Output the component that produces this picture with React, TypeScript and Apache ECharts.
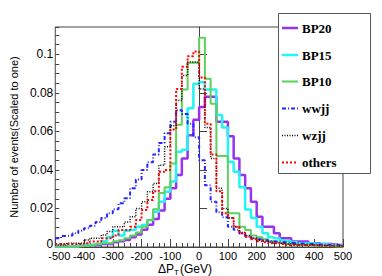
import React, { useEffect, useRef } from "react";
import * as echarts from "echarts";

// Histogram binning: 50 bins of 20 GeV from -500 to 500
const binStart = -500;
const binWidth = 20;
const nBins = 50;

const seriesNames = ["BP20", "BP15", "BP10", "wwjj", "wzjj", "others"];

const bp20 = [
  0.0003, 0.0003, 0.0003, 0.0005, 0.0005, 0.001, 0.001, 0.001, 0.0015, 0.0015,
  0.0025, 0.003, 0.0036, 0.005, 0.0065, 0.009, 0.0115, 0.0145, 0.019, 0.025,
  0.0305, 0.0374, 0.046, 0.058, 0.066, 0.0727, 0.078, 0.078, 0.065, 0.065,
  0.0575, 0.046, 0.0374, 0.0305, 0.0235, 0.0157, 0.0105, 0.0105, 0.0071, 0.0045,
  0.0045, 0.0028, 0.0028, 0.0028, 0.002, 0.002, 0.0015, 0.0015, 0.0012, 0.001,
];
const bp15 = [
  0.0003, 0.0003, 0.0003, 0.0003, 0.001, 0.001, 0.001, 0.0015, 0.003, 0.005,
  0.0085, 0.006, 0.0085, 0.009, 0.0105, 0.0114, 0.014, 0.0183, 0.0235, 0.0287,
  0.034, 0.0495, 0.0505, 0.072, 0.0848, 0.0855, 0.0818, 0.0818, 0.0685, 0.062,
  0.0443, 0.039, 0.031, 0.0195, 0.015, 0.0105, 0.0072, 0.005, 0.0045, 0.0035,
  0.003, 0.0025, 0.002, 0.002, 0.0018, 0.0015, 0.0015, 0.0012, 0.001, 0.001,
];
const bp10 = [
  0.0002, 0.0002, 0.0003, 0.0003, 0.0005, 0.0008, 0.001, 0.0015, 0.002, 0.002,
  0.003, 0.0035, 0.0045, 0.006, 0.0075, 0.0105, 0.014, 0.0196, 0.028, 0.031,
  0.0434, 0.0635, 0.0818, 0.0957, 0.0957, 0.1086, 0.0873, 0.0744, 0.0472, 0.0472,
  0.0175, 0.0175, 0.0105, 0.0088, 0.006, 0.005, 0.004, 0.003, 0.0025, 0.002,
  0.0015, 0.0012, 0.001, 0.001, 0.0008, 0.0006, 0.0005, 0.0005, 0.0003, 0.0003,
];
const wwjj = [
  0.0045, 0.0057, 0.006, 0.0071, 0.0085, 0.0097, 0.011, 0.013, 0.015, 0.0175,
  0.0196, 0.0227, 0.0253, 0.0305, 0.035, 0.04, 0.044, 0.048, 0.054, 0.059,
  0.065, 0.071, 0.069, 0.064, 0.057, 0.045, 0.032, 0.0235, 0.018, 0.0154,
  0.0105, 0.009, 0.007, 0.0055, 0.0045, 0.004, 0.0035, 0.003, 0.0028, 0.0025,
  0.0022, 0.002, 0.0018, 0.0016, 0.0015, 0.0013, 0.0012, 0.001, 0.001, 0.0008,
];
const wzjj = [
  0.001, 0.001, 0.002, 0.002, 0.002, 0.0036, 0.0045, 0.0045, 0.0062, 0.008,
  0.0105, 0.0105, 0.013, 0.0157, 0.02, 0.0235, 0.0287, 0.033, 0.0425, 0.052,
  0.063, 0.076, 0.089, 0.096, 0.096, 0.082, 0.062, 0.046, 0.0305, 0.02,
  0.015, 0.0105, 0.0075, 0.006, 0.0045, 0.0035, 0.003, 0.0025, 0.002, 0.002,
  0.0015, 0.0015, 0.001, 0.001, 0.001, 0.0008, 0.0008, 0.0006, 0.0005, 0.0005,
];
const others = [
  0.0015, 0.0015, 0.0015, 0.0015, 0.0015, 0.002, 0.0028, 0.0028, 0.0045, 0.0045,
  0.006, 0.0088, 0.0088, 0.0105, 0.014, 0.0192, 0.0244, 0.029, 0.039, 0.04,
  0.061, 0.082, 0.0936, 0.099, 0.1015, 0.088, 0.064, 0.048, 0.029, 0.0175,
  0.015, 0.0105, 0.0071, 0.0053, 0.004, 0.003, 0.0025, 0.002, 0.002, 0.0015,
  0.001, 0.001, 0.001, 0.001, 0.001, 0.0007, 0.0007, 0.0007, 0.0007, 0.0007,
];

const seriesValues = [bp20, bp15, bp10, wwjj, wzjj, others];

const seriesStyles: any[] = [
  { color: "#9932f0", width: 2.5, type: "solid" },
  { color: "#22f5f5", width: 2.5, type: "solid" },
  { color: "#5ed05e", width: 2, type: "solid" },
  { color: "#2626ff", width: 2, type: [4, 2, 1, 2] },
  { color: "#000000", width: 1.5, type: [1, 1.5] },
  { color: "#ff0000", width: 2, type: [2, 2] },
];

const Y_MAX = 0.1142;
const SANS = "'Liberation Sans', Arial, Helvetica, sans-serif";
const SERIF = "'Liberation Serif', 'Times New Roman', serif";
const AXIS_COLOR = "#444";

export default function App() {
  const ref = useRef<HTMLDivElement>(null);

  useEffect(() => {
    document.body.style.margin = "0";
    const chart = echarts.init(ref.current!, null, { renderer: "svg" });

    const edges: number[] = [];
    for (let i = 0; i <= nBins; i++) edges.push(binStart + i * binWidth);
    const toSteps = (vals: number[]) =>
      vals.map((v, i) => [edges[i], v]).concat([[edges[nBins], vals[nBins - 1]]]);

    const legendRows = [28, 55, 81.5, 108.5, 135.5, 162.5];
    const legendEls: any[] = [
      {
        type: "rect",
        shape: { x: 278.5, y: 13.5, width: 92, height: 160 },
        style: { fill: "#fff", stroke: "#555", lineWidth: 1 },
      },
    ];
    seriesNames.forEach((name, k) => {
      const st = seriesStyles[k];
      legendEls.push({
        type: "line",
        shape: { x1: 282, y1: legendRows[k], x2: 298, y2: legendRows[k] },
        style: {
          stroke: st.color,
          lineWidth: st.width,
          lineDash: Array.isArray(st.type) ? st.type : null,
        },
      });
      legendEls.push({
        type: "text",
        x: 302,
        y: legendRows[k],
        style: {
          text: name,
          fill: "#000",
          font: `bold 13px ${SERIF}`,
          verticalAlign: "middle",
          align: "left",
        },
      });
    });

    const option: any = {
      animation: false,
      backgroundColor: "#fff",
      grid: {
        left: 38,
        top: 27,
        width: 305,
        height: 220,
        show: true,
        borderColor: AXIS_COLOR,
        borderWidth: 1,
        backgroundColor: "transparent",
      },
      xAxis: [
        {
          type: "value",
          min: -500,
          max: 500,
          interval: 100,
          axisLine: { show: true, lineStyle: { color: AXIS_COLOR, width: 1 } },
          axisTick: { show: true, inside: true, length: 8, lineStyle: { color: AXIS_COLOR } },
          minorTick: { show: true, splitNumber: 5, length: 4, lineStyle: { color: AXIS_COLOR } },
          splitLine: { show: false },
          axisLabel: {
            color: "#000",
            fontSize: 11,
            fontFamily: SANS,
            margin: 3,
            showMinLabel: true,
            showMaxLabel: true,
            hideOverlap: false,
            formatter: (v: number) => (v === binStart ? `{m|${v}}` : String(v)),
            rich: {
              m: { fontSize: 11, fontFamily: SANS, color: "#000", padding: [0, 0, 0, 8] },
            },
          },
        },
      ],
      yAxis: [
        {
          type: "value",
          min: 0,
          max: Y_MAX,
          interval: 0.02,
          position: "left",
          name: "Number of events(Scaled to one)",
          nameLocation: "middle",
          nameGap: 28,
          nameTextStyle: { color: "#000", fontSize: 11, fontFamily: SANS },
          axisLine: { show: true, lineStyle: { color: AXIS_COLOR, width: 1 } },
          axisTick: { show: true, inside: true, length: 8, lineStyle: { color: AXIS_COLOR } },
          splitLine: { show: false },
          axisLabel: {
            color: "#000",
            fontSize: 12,
            fontFamily: SANS,
            margin: 2,
            showMaxLabel: false,
            formatter: (v: number) => {
              const r = v / 0.02;
              if (Math.abs(r - Math.round(r)) > 1e-6) return "";
              if (v === 0) return "{z|0}";
              return String(+v.toFixed(2));
            },
            rich: {
              z: { fontSize: 12, fontFamily: SANS, color: "#000", padding: [0, 0, 6, 0] },
            },
          },
        },
        {
          type: "value",
          min: 0,
          max: Y_MAX,
          interval: 0.005,
          position: "left",
          axisLine: { show: false },
          axisTick: { show: true, inside: true, length: 4, lineStyle: { color: AXIS_COLOR } },
          axisLabel: { show: false },
          splitLine: { show: false },
        },
      ],
      series: seriesNames.map((name, k) => ({
        name,
        type: "line",
        step: "end",
        symbol: "none",
        xAxisIndex: 0,
        yAxisIndex: 0,
        z: 2 + k,
        data: toSteps(seriesValues[k]),
        lineStyle: {
          color: seriesStyles[k].color,
          width: seriesStyles[k].width,
          type: seriesStyles[k].type,
        },
        itemStyle: { color: seriesStyles[k].color },
      })),
      graphic: [
        {
          type: "group",
          z: 100,
          children: legendEls,
        },
        {
          type: "group",
          z: 100,
          children: [
            {
              type: "text",
              x: 158,
              y: 268.5,
              style: {
                text: "ΔP",
                fill: "#000",
                font: `12px ${SANS}`,
                verticalAlign: "middle",
                align: "left",
              },
            },
            {
              type: "text",
              x: 174,
              y: 272,
              style: {
                text: "T",
                fill: "#000",
                font: `8px ${SANS}`,
                verticalAlign: "middle",
                align: "left",
              },
            },
            {
              type: "text",
              x: 180,
              y: 268.5,
              style: {
                text: "(GeV)",
                fill: "#000",
                font: `12px ${SANS}`,
                verticalAlign: "middle",
                align: "left",
              },
            },
          ],
        },
      ],
    };

    chart.setOption(option);
    return () => chart.dispose();
  }, []);

  return <div ref={ref} style={{ width: 382, height: 276 }} />;
}
